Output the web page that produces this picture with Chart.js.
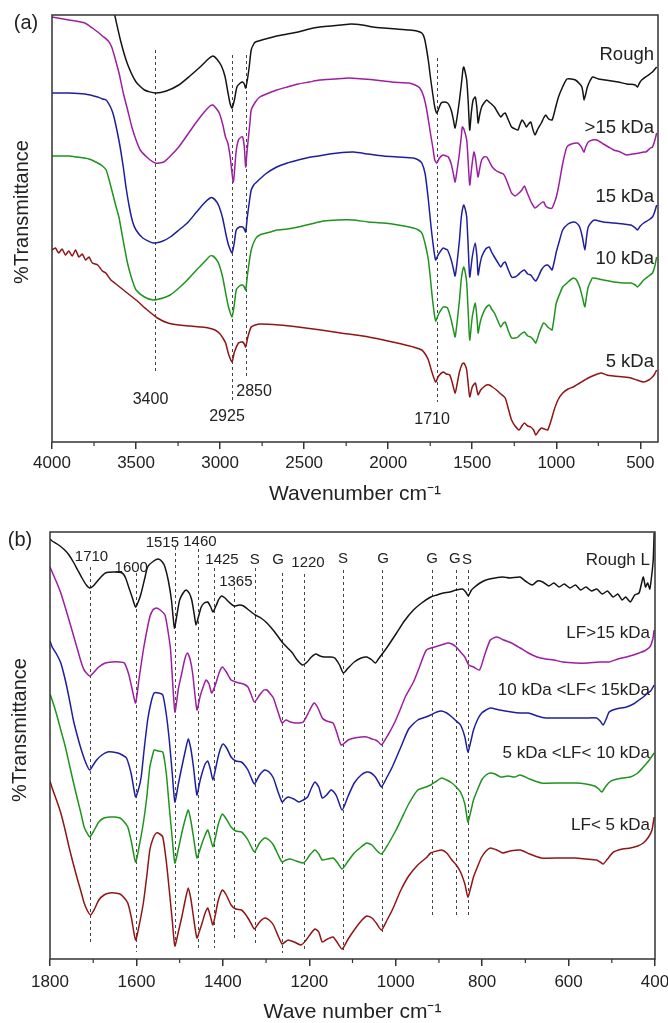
<!DOCTYPE html>
<html>
<head>
<meta charset="utf-8">
<title>FTIR spectra</title>
<script src="https://cdn.jsdelivr.net/npm/chart.js@4.4.1/dist/chart.umd.min.js"></script>
<style>
  html, body { margin: 0; padding: 0; background: #fff; }
  #wrap { position: relative; width: 668px; height: 1023px; overflow: hidden; }
  canvas { position: absolute; left: 0; display: block; }
  #chartA { top: 0; }
  #chartB { top: 515px; }
</style>
</head>
<body>
<div id="wrap">
  <canvas id="chartA" width="668" height="515"></canvas>
  <canvas id="chartB" width="668" height="508"></canvas>
</div>
<script>
// ============================== DATA: panel (a), [wavenumber, relative %T] ==============================
const ticksA = [4000, 3500, 3000, 2500, 2000, 1500, 1000, 500];
const namesA = ['Rough', '>15 kDa', '15 kDa', '10 kDa', '5 kDa'];

const roughA = [[3650,445],[3627,427],[3590,400],[3551,378],[3500,360],[3450,352],[3386,349],[3320,351],[3246,357],[3180,366],[3119,375],[3070,383],[3043,386],[3020,383],[2992,376],[2970,365],[2954,350],[2940,338],[2929,334],[2915,342],[2900,355],[2880,359],[2866,360],[2856,358],[2848,354],[2838,362],[2827,375],[2815,392],[2800,398],[2789,400],[2730,403],[2663,406],[2600,408],[2536,410],[2470,413],[2409,415],[2340,416],[2282,417],[2220,418],[2155,417],[2090,415],[2028,414],[1950,413],[1876,412],[1830,411],[1800,409],[1785,404],[1774,395],[1760,380],[1749,365],[1735,348],[1723,335],[1711,329],[1700,333],[1685,339],[1665,340],[1647,339],[1635,336],[1622,330],[1612,322],[1602,314],[1590,325],[1576,342],[1562,362],[1555,373],[1551,375],[1545,372],[1533,362],[1524,340],[1515,312],[1505,330],[1495,342],[1482,345],[1473,335],[1465,319],[1455,328],[1444,335],[1430,339],[1414,342],[1400,340],[1393,339],[1380,337],[1368,335],[1350,330],[1330,325],[1315,328],[1304,329],[1285,322],[1266,315],[1245,313],[1228,312],[1215,318],[1203,322],[1190,319],[1178,315],[1165,318],[1152,320],[1140,313],[1127,307],[1110,313],[1089,319],[1075,324],[1063,327],[1045,323],[1025,322],[1005,334],[987,345],[960,356],[937,363],[910,363],[886,362],[860,358],[848,355],[840,348],[835,342],[825,348],[815,355],[800,361],[784,365],[750,363],[708,362],[670,361],[632,360],[580,358],[530,357],[517,355],[505,359],[492,362],[460,366],[428,370],[403,375]];

const above15A = [[4000,425],[3900,422],[3805,419],[3760,414],[3728,410],[3700,406],[3665,401],[3645,395],[3627,385],[3600,368],[3576,349],[3550,332],[3525,315],[3500,302],[3475,292],[3430,284],[3386,279],[3335,280],[3290,287],[3246,295],[3195,307],[3145,319],[3094,330],[3060,336],[3043,337],[3025,334],[3005,329],[2985,318],[2968,305],[2954,299],[2940,285],[2921,260],[2905,290],[2891,302],[2875,305],[2866,305],[2856,295],[2848,275],[2840,290],[2833,302],[2822,320],[2815,332],[2790,340],[2764,345],[2710,349],[2663,352],[2600,355],[2536,358],[2470,360],[2409,362],[2320,363],[2232,364],[2150,363],[2080,362],[1980,360],[1876,359],[1840,357],[1812,354],[1790,346],[1774,335],[1760,321],[1749,309],[1735,295],[1723,282],[1711,279],[1695,284],[1673,287],[1655,286],[1642,285],[1625,278],[1612,268],[1602,260],[1590,272],[1576,289],[1565,306],[1559,315],[1550,313],[1533,302],[1524,280],[1515,257],[1503,275],[1490,290],[1480,283],[1472,272],[1465,265],[1455,274],[1444,282],[1430,285],[1414,285],[1400,281],[1381,275],[1355,271],[1330,269],[1315,268],[1304,265],[1285,257],[1266,249],[1245,246],[1228,248],[1205,252],[1190,256],[1175,250],[1160,244],[1150,240],[1127,234],[1110,236],[1090,239],[1075,240],[1063,236],[1045,234],[1025,234],[1010,240],[1000,245],[987,255],[960,280],[937,295],[910,298],[873,299],[860,297],[848,294],[840,291],[835,290],[825,295],[810,300],[785,302],[759,302],[720,298],[690,295],[658,292],[620,290],[582,287],[545,288],[505,289],[480,290],[467,290],[440,294],[428,295],[415,301],[403,309]];

const kda15A = [[4000,349],[3900,349],[3805,348],[3728,345],[3700,343],[3678,342],[3655,336],[3640,330],[3627,322],[3600,300],[3576,275],[3560,255],[3540,235],[3520,220],[3500,212],[3460,204],[3398,199],[3340,201],[3297,205],[3245,212],[3195,219],[3140,230],[3094,239],[3060,244],[3043,244],[3020,240],[3005,235],[2985,224],[2967,209],[2950,197],[2929,189],[2915,200],[2904,212],[2885,215],[2866,215],[2856,213],[2848,210],[2838,225],[2827,239],[2815,252],[2800,257],[2789,259],[2730,268],[2663,275],[2600,279],[2536,282],[2460,285],[2384,287],[2300,289],[2206,290],[2120,288],[2028,286],[1940,285],[1850,284],[1820,282],[1800,279],[1780,268],[1761,242],[1748,220],[1736,202],[1718,182],[1700,188],[1673,194],[1660,193],[1647,192],[1625,182],[1612,173],[1602,166],[1590,180],[1576,202],[1565,225],[1551,237],[1542,233],[1533,225],[1524,195],[1515,165],[1500,185],[1482,199],[1472,185],[1465,167],[1455,177],[1444,185],[1420,193],[1399,195],[1385,190],[1368,185],[1350,180],[1330,175],[1315,179],[1304,180],[1285,172],[1266,165],[1245,165],[1228,167],[1210,170],[1190,172],[1170,168],[1152,167],[1135,163],[1122,161],[1105,166],[1089,172],[1070,176],[1051,177],[1035,174],[1025,172],[1010,182],[1000,190],[980,202],[962,212],[930,218],[899,220],[880,219],[861,215],[845,205],[830,192],[820,205],[810,215],[790,220],[772,222],[720,220],[658,219],[600,218],[556,217],[530,214],[518,212],[500,216],[480,219],[450,222],[428,225],[415,230],[403,237]];

const kda10A = [[4000,286],[3900,286],[3855,285],[3780,283],[3728,279],[3700,276],[3678,272],[3660,262],[3640,249],[3620,236],[3602,225],[3575,200],[3551,179],[3525,163],[3500,152],[3450,145],[3398,142],[3340,144],[3297,147],[3245,154],[3195,162],[3140,172],[3094,180],[3060,186],[3043,186],[3020,182],[3005,177],[2985,165],[2967,149],[2950,135],[2929,125],[2915,138],[2904,152],[2885,156],[2866,157],[2856,155],[2848,152],[2835,170],[2815,192],[2790,203],[2764,207],[2700,210],[2663,212],[2600,213],[2536,215],[2460,218],[2384,221],[2300,222],[2206,222],[2120,220],[2028,219],[1940,217],[1850,214],[1820,212],[1800,209],[1780,198],[1761,182],[1748,162],[1736,142],[1718,121],[1700,128],[1673,135],[1660,135],[1647,134],[1625,122],[1612,112],[1602,105],[1590,120],[1576,142],[1565,163],[1551,175],[1542,170],[1533,159],[1524,130],[1515,102],[1500,125],[1482,139],[1472,124],[1465,109],[1455,118],[1444,125],[1420,134],[1399,137],[1385,133],[1368,129],[1350,122],[1330,115],[1315,119],[1304,120],[1285,111],[1266,104],[1245,104],[1228,105],[1210,108],[1190,110],[1170,106],[1152,105],[1135,102],[1122,99],[1100,110],[1076,119],[1060,117],[1051,115],[1035,113],[1025,112],[1010,128],[1000,139],[980,148],[962,155],[930,160],[899,164],[880,162],[861,155],[845,145],[830,135],[820,146],[810,155],[795,161],[784,164],[720,162],[658,160],[600,159],[556,159],[530,157],[518,155],[500,158],[480,162],[450,166],[428,169],[415,175],[403,185]];

const kda5A = [[4000,192],[3980,194],[3960,189],[3940,193],[3920,187],[3900,191],[3880,186],[3860,192],[3840,185],[3820,188],[3800,182],[3780,185],[3760,179],[3728,177],[3700,171],[3680,169],[3650,162],[3627,159],[3560,150],[3500,142],[3440,133],[3373,124],[3310,119],[3246,117],[3180,116],[3119,115],[3070,114],[3030,112],[3000,108],[2980,103],[2967,99],[2950,88],[2929,80],[2915,90],[2891,99],[2875,100],[2866,100],[2856,98],[2848,95],[2835,105],[2815,115],[2790,117],[2764,118],[2650,117],[2536,115],[2400,112],[2282,109],[2150,106],[2028,102],[1920,98],[1850,95],[1800,92],[1780,88],[1761,82],[1740,70],[1718,60],[1700,66],[1673,70],[1655,68],[1634,67],[1620,60],[1602,49],[1590,58],[1576,70],[1560,78],[1551,79],[1540,76],[1533,72],[1524,58],[1515,45],[1500,55],[1482,59],[1472,52],[1465,47],[1450,52],[1432,55],[1415,57],[1399,57],[1380,55],[1356,52],[1330,48],[1304,44],[1285,33],[1266,22],[1245,16],[1221,12],[1205,16],[1190,19],[1170,16],[1152,15],[1135,12],[1122,7],[1105,11],[1089,14],[1070,13],[1051,12],[1030,22],[1013,32],[990,42],[962,49],[930,53],[899,55],[860,59],[810,64],[770,67],[734,69],[700,67],[658,66],[600,65],[556,64],[520,62],[480,60],[450,62],[428,65],[415,68],[403,72]];

// ============================== DATA: panel (b) ==============================
const ticksB = [1800, 1600, 1400, 1200, 1000, 800, 600, 400];
const namesB = ['Rough L', 'LF>15 kDa', '10 kDa <LF< 15kDa', '5 kDa <LF< 10 kDa', 'LF< 5 kDa'];

const roughB = [[1800,420],[1795,418],[1780,414],[1766,409],[1756,404],[1746,397],[1736,389],[1726,381],[1716,374],[1708,371],[1700,373],[1692,377],[1682,382],[1672,386],[1652,387],[1633,386],[1625,381],[1618,372],[1610,362],[1602,352],[1595,358],[1589,366],[1580,382],[1574,392],[1560,398],[1549,400],[1540,397],[1534,392],[1526,378],[1519,359],[1512,331],[1506,345],[1500,359],[1492,366],[1485,369],[1478,366],[1472,359],[1466,344],[1462,334],[1456,343],[1450,352],[1443,356],[1435,357],[1428,352],[1423,347],[1415,354],[1409,360],[1403,363],[1395,361],[1386,357],[1374,353],[1362,354],[1352,353],[1340,349],[1325,344],[1312,341],[1298,336],[1280,327],[1263,317],[1250,311],[1239,306],[1228,299],[1216,294],[1205,297],[1195,302],[1185,305],[1175,303],[1165,302],[1150,302],[1141,301],[1130,294],[1121,286],[1110,291],[1096,297],[1080,301],[1067,302],[1055,299],[1047,296],[1040,300],[1033,304],[1018,313],[998,326],[980,338],[959,349],[940,356],[919,362],[905,364],[890,366],[875,367],[860,369],[845,370],[838,367],[832,363],[826,368],[820,371],[805,376],[791,379],[770,381],[752,382],[735,381],[712,382],[700,378],[684,374],[672,378],[660,377],[646,373],[634,376],[622,372],[610,375],[597,371],[584,374],[572,369],[560,372],[547,368],[535,370],[522,365],[510,368],[497,362],[486,365],[476,359],[468,362],[457,357],[447,364],[437,366],[432,374],[427,382],[422,372],[417,376],[412,370],[407,386],[404,400],[402,426]];

const above15B = [[1800,392],[1795,387],[1785,377],[1775,366],[1765,352],[1756,339],[1746,324],[1736,309],[1728,297],[1721,289],[1708,283],[1698,287],[1687,292],[1672,296],[1657,297],[1640,297],[1628,296],[1618,285],[1610,270],[1602,256],[1594,280],[1584,309],[1576,328],[1569,342],[1562,349],[1554,351],[1545,349],[1534,344],[1527,328],[1521,309],[1511,247],[1503,270],[1495,286],[1488,300],[1482,306],[1476,300],[1470,286],[1460,249],[1453,262],[1448,269],[1439,279],[1432,275],[1426,266],[1420,271],[1416,276],[1408,287],[1401,292],[1392,287],[1381,279],[1370,277],[1362,276],[1352,275],[1342,272],[1335,265],[1327,257],[1315,264],[1305,269],[1298,269],[1290,265],[1283,261],[1273,248],[1263,236],[1254,239],[1244,237],[1230,236],[1214,237],[1200,248],[1189,256],[1180,251],[1170,241],[1160,238],[1145,236],[1136,226],[1126,214],[1110,219],[1096,221],[1080,222],[1067,222],[1055,220],[1047,219],[1040,217],[1033,214],[1018,224],[1003,236],[990,249],[978,262],[959,277],[945,292],[929,309],[910,312],[895,314],[880,316],[870,315],[860,312],[850,307],[840,302],[831,294],[820,292],[806,289],[795,303],[781,319],[766,322],[750,319],[732,316],[712,311],[693,306],[673,302],[653,300],[634,299],[614,297],[584,296],[555,296],[530,297],[506,297],[486,300],[466,302],[450,304],[437,306],[425,308],[412,312],[405,320],[402,329]];

const kda10to15B = [[1800,318],[1795,312],[1785,305],[1775,296],[1768,285],[1761,272],[1754,257],[1746,239],[1736,222],[1726,207],[1716,195],[1708,189],[1700,194],[1692,199],[1680,204],[1667,207],[1655,207],[1643,206],[1633,204],[1623,201],[1612,185],[1602,162],[1595,170],[1589,182],[1582,210],[1574,239],[1566,257],[1559,266],[1549,266],[1539,264],[1531,245],[1524,219],[1517,185],[1511,157],[1503,175],[1495,192],[1487,208],[1480,220],[1474,210],[1468,192],[1460,164],[1454,176],[1448,186],[1441,195],[1435,198],[1429,190],[1423,179],[1417,190],[1411,202],[1405,211],[1399,215],[1390,210],[1381,202],[1370,198],[1357,197],[1350,194],[1342,189],[1334,181],[1327,175],[1315,184],[1303,189],[1293,187],[1283,181],[1273,168],[1263,157],[1256,160],[1249,162],[1236,160],[1224,157],[1214,159],[1204,162],[1195,171],[1187,177],[1178,172],[1170,161],[1160,164],[1150,169],[1143,167],[1136,162],[1124,149],[1110,163],[1096,176],[1080,184],[1067,187],[1057,186],[1047,182],[1040,177],[1033,172],[1020,182],[1008,192],[998,202],[988,212],[970,230],[949,239],[930,242],[919,244],[905,247],[894,248],[882,246],[870,242],[860,238],[850,234],[840,222],[833,207],[826,218],[820,229],[810,240],[801,246],[791,249],[781,251],[760,249],[732,247],[712,246],[693,246],[673,243],[653,241],[620,241],[584,241],[560,241],[535,241],[527,238],[520,234],[513,240],[506,247],[490,250],[466,252],[450,255],[437,259],[427,262],[417,266],[410,268],[402,274]];

const kda5to10B = [[1800,265],[1795,259],[1785,245],[1775,229],[1765,213],[1756,196],[1746,177],[1736,159],[1728,145],[1721,132],[1713,125],[1708,122],[1700,127],[1687,137],[1675,141],[1662,142],[1650,142],[1638,141],[1628,137],[1620,132],[1612,118],[1602,97],[1594,112],[1584,136],[1576,162],[1569,192],[1562,205],[1559,209],[1549,208],[1539,207],[1531,186],[1524,152],[1517,120],[1511,96],[1503,110],[1495,126],[1487,140],[1480,149],[1474,138],[1468,122],[1460,101],[1454,108],[1448,116],[1441,124],[1435,129],[1429,121],[1423,112],[1417,122],[1411,134],[1405,142],[1401,145],[1392,140],[1381,132],[1370,128],[1357,127],[1350,124],[1342,119],[1334,112],[1327,107],[1315,116],[1303,121],[1293,119],[1283,114],[1273,105],[1263,97],[1254,99],[1244,100],[1230,98],[1214,96],[1205,100],[1199,104],[1187,109],[1178,105],[1170,99],[1158,100],[1145,101],[1136,97],[1124,90],[1110,98],[1096,106],[1080,112],[1067,116],[1055,114],[1045,109],[1033,105],[1020,113],[1008,122],[998,130],[988,139],[970,155],[949,169],[930,172],[919,174],[905,178],[894,181],[882,179],[870,176],[860,172],[850,167],[840,155],[833,137],[826,148],[820,159],[810,170],[801,179],[791,184],[781,186],[770,185],[757,182],[740,183],[725,182],[712,184],[690,180],[663,176],[620,176],[584,176],[560,175],[540,173],[530,170],[523,167],[515,172],[505,177],[496,179],[475,181],[457,182],[440,186],[427,192],[415,198],[402,206]];

const below5B = [[1800,178],[1795,171],[1785,159],[1775,146],[1765,129],[1756,112],[1746,95],[1736,79],[1728,67],[1721,56],[1713,48],[1706,44],[1697,50],[1687,59],[1675,64],[1662,66],[1650,66],[1638,65],[1628,61],[1620,56],[1612,42],[1602,19],[1594,33],[1584,56],[1576,83],[1569,109],[1562,120],[1554,126],[1546,125],[1539,122],[1531,98],[1524,69],[1517,38],[1511,13],[1503,27],[1495,42],[1487,59],[1480,71],[1474,60],[1468,42],[1460,21],[1454,28],[1448,36],[1441,46],[1435,51],[1429,43],[1423,34],[1417,45],[1411,58],[1405,66],[1401,69],[1392,64],[1381,54],[1370,50],[1357,49],[1350,46],[1342,41],[1334,35],[1327,30],[1315,37],[1303,41],[1293,39],[1283,34],[1273,24],[1263,15],[1256,17],[1249,19],[1235,17],[1219,14],[1209,18],[1199,24],[1187,30],[1178,27],[1170,17],[1158,20],[1145,22],[1136,17],[1124,10],[1110,20],[1096,29],[1080,38],[1067,43],[1055,41],[1045,36],[1033,29],[1020,39],[1008,49],[998,59],[988,69],[970,83],[949,94],[930,101],[919,106],[905,108],[894,109],[882,106],[870,99],[860,94],[850,87],[840,75],[833,62],[826,72],[820,82],[810,93],[801,102],[791,108],[781,111],[766,109],[752,106],[735,108],[712,109],[690,105],[663,101],[620,101],[584,101],[560,100],[535,99],[527,97],[520,95],[510,100],[496,107],[475,110],[457,111],[440,113],[427,116],[415,122],[407,129],[402,142]];

// peak markers: wavenumber, upper and lower end of the dashed line (same units as the spectra)
const peakLinesA = [[3386, 392, 70], [2929, 387, 39], [2848, 387, 65], [1711, 384, 40]];
const peakTextA = [['3400', 3414, 42], ['2925', 2959, 25], ['2850', 2798, 50], ['1710', 1739, 22]];
const seriesTextA = [387, 314, 245, 183, 80];

const peakLinesB = [[1708, 392, 14], [1602, 386, 7], [1510, 412, 10], [1457, 410, 9], [1421, 391, 11], [1374, 372, 21], [1326, 391, 13], [1264, 386, 6], [1212, 385, 7], [1121, 389, 9], [1032, 389, 27], [916, 389, 42], [860, 389, 41], [833, 389, 41]];
const peakTextB = [['1710', 1704, 402], ['1600', 1612, 391], ['1515', 1540, 416], ['1460', 1453, 417], ['1425', 1402, 399], ['1365', 1370, 377], ['S', 1326, 399], ['G', 1272, 399], ['1220', 1203, 396], ['S', 1122, 400], ['G', 1029, 400], ['G', 916, 400], ['G', 863, 400], ['S', 835, 399]];
const seriesTextB = [399, 326, 269, 206, 134];

const colors = ['#141414', '#9c1fa0', '#1f1f9c', '#1f931f', '#8e1616'];
const FONT = '"Liberation Sans", Arial, Helvetica, sans-serif';

// ============================== Plugin: frame, minor ticks, dashed lines, texts ==============================
const decorPlugin = {
    id: 'decor',
    beforeDatasetsDraw(chart, args, o) {
        const {ctx, scales: {x, y}} = chart;
        ctx.save();
        ctx.setLineDash([3, 3]);
        ctx.lineWidth = 1;
        ctx.strokeStyle = '#444';
        o.lines.forEach(l => {
            const px = Math.round(x.getPixelForValue(l[0])) + 0.5;
            ctx.beginPath();
            ctx.moveTo(px, y.getPixelForValue(l[1]));
            ctx.lineTo(px, y.getPixelForValue(l[2]));
            ctx.stroke();
        });
        ctx.restore();
    },
    afterDraw(chart, args, o) {
        const {ctx, chartArea: a, scales: {x, y}} = chart;
        ctx.save();
        ctx.strokeStyle = '#333';
        ctx.lineWidth = 1.5;
        ctx.strokeRect(a.left, a.top, a.right - a.left, a.bottom - a.top);

        // minor ticks
        ctx.lineWidth = 1.2;
        for (let v = o.minorFrom; v >= x.min; v -= o.minorStep) {
            const px = x.getPixelForValue(v);
            ctx.beginPath();
            ctx.moveTo(px, a.bottom);
            ctx.lineTo(px, a.bottom + 4);
            ctx.stroke();
        }

        ctx.fillStyle = '#222';
        ctx.textBaseline = 'middle';
        ctx.textAlign = 'center';
        ctx.font = o.peakFont + 'px ' + FONT;
        o.peakText.forEach(t => ctx.fillText(t[0], x.getPixelForValue(t[1]), y.getPixelForValue(t[2])));

        ctx.textAlign = 'right';
        ctx.font = o.nameFont + 'px ' + FONT;
        o.names.forEach((n, i) => ctx.fillText(n, o.nameRight, y.getPixelForValue(o.nameY[i])));

        ctx.textAlign = 'center';
        ctx.font = '20px ' + FONT;
        ctx.fillText(o.letter, o.letterPos[0], o.letterPos[1]);

        ctx.translate(o.yTitlePos[0], o.yTitlePos[1]);
        ctx.rotate(-Math.PI / 2);
        ctx.fillText('%Transmittance', 0, 0);
        ctx.restore();
    }
};

function toPoints(pairs) {
    return pairs.map(p => ({x: p[0], y: p[1]}));
}

function createChart(id, cfg) {
    const ctx = document.getElementById(id).getContext('2d');
    return new Chart(ctx, {
        type: 'line',
        data: {
            datasets: cfg.series.map((s, i) => ({
                label: cfg.names[i],
                data: toPoints(s),
                borderColor: colors[i],
                borderWidth: 1.5,
                pointRadius: 0,
                tension: 0.2,
                fill: false
            }))
        },
        options: {
            responsive: false,
            animation: false,
            events: [],
            layout: { padding: cfg.padding },
            plugins: {
                legend: { display: false },
                tooltip: { enabled: false },
                decor: cfg.decor
            },
            scales: {
                x: {
                    type: 'linear',
                    reverse: true,
                    min: cfg.min,
                    max: cfg.max,
                    afterBuildTicks: s => { s.ticks = cfg.ticks.map(v => ({value: v})); },
                    afterFit: s => {
                        s.height = cfg.axisHeight;
                        // edge labels may hang over the frame, as in the original figure
                        s.paddingLeft = 0;
                        s.paddingRight = 0;
                    },
                    border: { display: false },
                    grid: { drawOnChartArea: false, drawTicks: true, tickLength: 7, color: '#333', lineWidth: 1.5 },
                    ticks: {
                        autoSkip: false,
                        maxRotation: 0,
                        padding: cfg.tickPad,
                        color: '#222',
                        font: { family: FONT, size: 17 },
                        callback: v => String(v)
                    },
                    title: {
                        display: true,
                        text: cfg.xTitle,
                        color: '#222',
                        font: { family: FONT, size: 21, lineHeight: 1 },
                        padding: { top: 0, bottom: cfg.titlePad }
                    }
                },
                y: { display: false, min: 0, max: 427 }
            }
        },
        plugins: [decorPlugin]
    });
}

// ============================== Initialization ==============================
window.addEventListener('DOMContentLoaded', () => {
    createChart('chartA', {
        series: [roughA, above15A, kda15A, kda10A, kda5A],
        names: namesA,
        ticks: ticksA,
        min: 395, max: 4000,
        padding: { left: 52, right: 10, top: 15, bottom: 0 },
        axisHeight: 73,
        tickPad: 4,
        titlePad: 10,
        xTitle: 'Wavenumber cm\u207B\u00B9',
        decor: {
            lines: peakLinesA, peakText: peakTextA, peakFont: 16,
            names: namesA, nameY: seriesTextA, nameRight: 654, nameFont: 18.5,
            minorFrom: 3750, minorStep: 500,
            letter: '(a)', letterPos: [26, 23], yTitlePos: [22, 212]
        }
    });

    createChart('chartB', {
        series: [roughB, above15B, kda10to15B, kda5to10B, below5B],
        names: namesB,
        ticks: ticksB,
        min: 400, max: 1800,
        padding: { left: 50, right: 13, top: 17, bottom: 0 },
        axisHeight: 64,
        tickPad: 6,
        titlePad: 0,
        xTitle: 'Wave number cm\u207B\u00B9',
        decor: {
            lines: peakLinesB, peakText: peakTextB, peakFont: 15,
            names: namesB, nameY: seriesTextB, nameRight: 650, nameFont: 17,
            minorFrom: 1700, minorStep: 200,
            letter: '(b)', letterPos: [20, 25], yTitlePos: [20, 215]
        }
    });
});
</script>
</body>
</html>
